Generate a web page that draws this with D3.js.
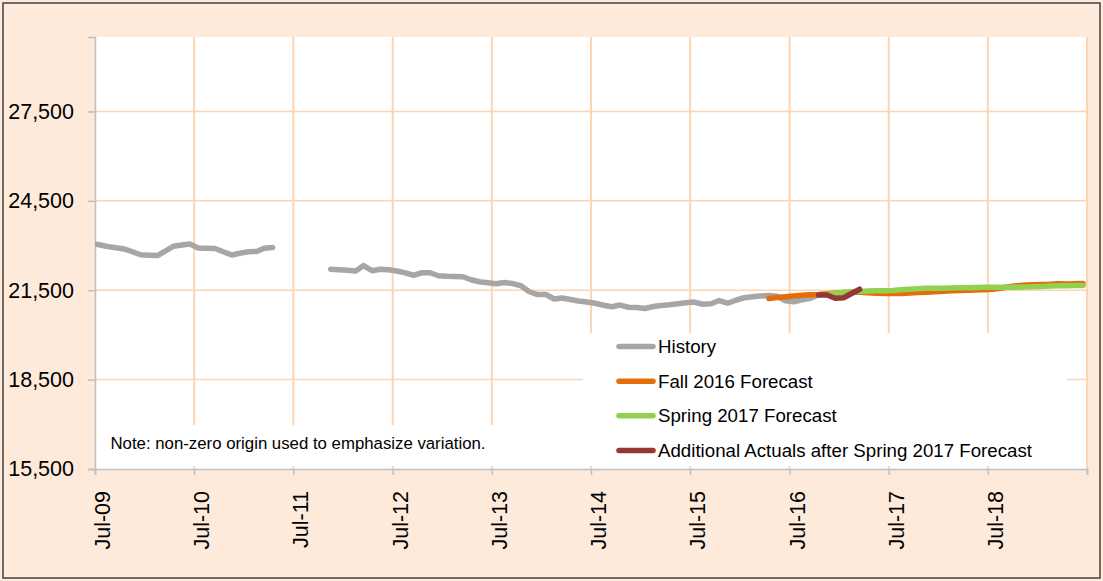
<!DOCTYPE html>
<html>
<head>
<meta charset="utf-8">
<script src="https://cdn.jsdelivr.net/npm/d3@7"></script>
<style>
html,body{margin:0;padding:0;background:#fff;}
svg{display:block;}
text{font-family:"Liberation Sans",Arial,sans-serif;fill:#000;}
</style>
</head>
<body>
<script>
// ---------- DATA ----------
const xTickLabels = ["Jul-09","Jul-10","Jul-11","Jul-12","Jul-13","Jul-14","Jul-15","Jul-16","Jul-17","Jul-18"];
const yTickValues = [15500, 18500, 21500, 24500, 27500];

// History, first segment: monthly from Jun-09
const historyA_start = "2009-06";
const historyA = [23080,23027,22967,22926,22886,22792,22691,22675,22665,22809,22977,23017,
  23054,22920,22913,22903,22792,22685,22742,22792,22799,22910,22933];

// History, second segment: monthly from Nov-11
const historyB_start = "2011-11";
const historyB = [22205,22191,22168,22148,22329,22154,22205,22188,22144,22084,22003,22087,
  22087,21987,21970,21960,21953,21852,21785,21752,21718,21762,21725,21651,
  21450,21356,21356,21205,21242,21188,21141,21107,21064,20997,20946,21003,
  20929,20919,20886,20953,20987,21013,21047,21080,21104,21030,21047,21154,
  21064,21164,21248,21282,21305,21322,21299,21148,21114,21181,21232,21340];

// Fall 2016 Forecast: monthly from Apr-16
const fall2016_start = "2016-04";
const fall2016 = [21221,21255,21282,21305,21332,21346,21359,21383,21406,21426,21433,21433,
  21416,21399,21393,21389,21393,21406,21423,21433,21450,21466,21480,21490,
  21500,21507,21517,21534,21567,21617,21651,21675,21685,21691,21701,21718,
  21708,21718,21725];

// Spring 2017 Forecast: monthly from Nov-16
const spring2017_start = "2016-11";
const spring2017 = [21366,21399,21426,21446,21460,21473,21480,21487,21493,21513,21534,21550,
  21567,21567,21570,21577,21581,21584,21591,21597,21601,21601,21601,21601,
  21607,21617,21628,21641,21651,21654,21658,21661];

// Additional Actuals after Spring 2017 Forecast: monthly from Oct-16
const actuals_start = "2016-10";
const actuals = [21340,21339,21232,21248,21399,21534];

const seriesNames = ["History","Fall 2016 Forecast","Spring 2017 Forecast","Additional Actuals after Spring 2017 Forecast"];
const seriesColors = ["#A6A6A6","#E46C0A","#92D050","#953735"];
const noteText = "Note: non-zero origin used to emphasize variation.";

// ---------- LAYOUT ----------
const W = 1103, H = 581;
const plot = {left:95, top:37, right:1087, bottom:469};
const parseMonth = d3.timeParse("%Y-%m");
const fmtTick = d3.timeFormat("%b-%y");

function toPoints(startStr, values){
  const s = parseMonth(startStr);
  return values.map((v,i)=>({date:d3.timeDay.offset(d3.timeMonth.offset(s,i),15), value:v}));
}

const x = d3.scaleTime()
  .domain([new Date(2009,6,1), new Date(2019,6,1)])
  .range([plot.left, plot.right]);
const y = d3.scaleLinear().domain([15500, 30000]).range([plot.bottom, plot.top]);

const svg = d3.select("body").append("svg").attr("width",W).attr("height",H);

// chart background + border
svg.append("rect").attr("x",0).attr("y",0).attr("width",W).attr("height",H).attr("fill","#FDEADA");
svg.append("rect").attr("x",3).attr("y",3).attr("width",W-6).attr("height",H-6)
  .attr("fill","none").attr("stroke","#404040").attr("stroke-width",1.5);

// plot area
svg.append("rect").attr("x",plot.left).attr("y",plot.top)
  .attr("width",plot.right-plot.left).attr("height",plot.bottom-plot.top).attr("fill","#fff");

const gridColor = "#FCD5B4";
const yearTicks = d3.range(1,11).map(i=>new Date(2009+i,6,1));
// vertical gridlines
svg.append("g").selectAll("line").data(yearTicks).join("line")
  .attr("x1",d=>x(d)).attr("x2",d=>x(d)).attr("y1",plot.top).attr("y2",plot.bottom)
  .attr("stroke",gridColor).attr("stroke-width",2);
// horizontal gridlines
svg.append("g").selectAll("line").data(yTickValues.slice(1)).join("line")
  .attr("x1",plot.left).attr("x2",plot.right).attr("y1",d=>y(d)).attr("y2",d=>y(d))
  .attr("stroke",gridColor).attr("stroke-width",1.5);

// axes
const yAxis = d3.axisLeft(y).tickValues(yTickValues).tickSize(7).tickPadding(14)
  .tickFormat(d3.format(","));
const gy = svg.append("g").attr("transform",`translate(${plot.left},0)`).call(yAxis);
gy.select(".domain").attr("stroke","#BFBFBF").attr("stroke-width",1.5);
gy.selectAll(".tick line").attr("stroke","#BFBFBF").attr("stroke-width",1.5);
gy.selectAll(".tick text").attr("font-size","21.5px").attr("fill","#000")
  .attr("font-family","Liberation Sans, Arial, sans-serif");

const xTicks = d3.range(0,11).map(i=>new Date(2009+i,6,1));
const xAxis = d3.axisBottom(x).tickValues(xTicks).tickSize(6).tickFormat("");
const gx = svg.append("g").attr("transform",`translate(0,${plot.bottom})`).call(xAxis);
gx.select(".domain").attr("stroke","#BFBFBF").attr("stroke-width",1.5);
gx.selectAll(".tick line").attr("stroke","#BFBFBF").attr("stroke-width",1.5);

// rotated x labels
svg.append("g").selectAll("text").data(xTicks.slice(0,10)).join("text")
  .attr("transform",d=>`translate(${x(d)+15},${plot.bottom+22}) rotate(-90)`)
  .attr("text-anchor","end")
  .attr("font-size","21.5px")
  .text((d,i)=>xTickLabels[i]);

// series
const clip = svg.append("clipPath").attr("id","clipPlot").append("rect")
  .attr("x",plot.left).attr("y",plot.top).attr("width",plot.right-plot.left).attr("height",plot.bottom-plot.top);
const line = d3.line().x(d=>x(d.date)).y(d=>y(d.value));
const gLines = svg.append("g").attr("clip-path","url(#clipPlot)");
const seriesData = [
  {pts:toPoints(historyA_start,historyA), c:0},
  {pts:toPoints(historyB_start,historyB), c:0},
  {pts:toPoints(fall2016_start,fall2016), c:1},
  {pts:toPoints(spring2017_start,spring2017), c:2},
  {pts:toPoints(actuals_start,actuals), c:3}
];
gLines.selectAll("path").data(seriesData).join("path")
  .attr("d",d=>line(d.pts)).attr("fill","none")
  .attr("stroke",d=>seriesColors[d.c]).attr("stroke-width",5.5)
  .attr("stroke-linejoin","round").attr("stroke-linecap","round");

// note box
svg.append("rect").attr("x",100).attr("y",425).attr("width",400).attr("height",41).attr("fill","#fff");
svg.append("text").attr("x",110.5).attr("y",448.5).attr("font-size","16.8px").text(noteText);

// legend
const lg = svg.append("g");
lg.append("rect").attr("x",583).attr("y",333).attr("width",484).attr("height",133).attr("fill","#fff");
const legY = d3.scaleLinear().domain([0,3]).range([346.5,450.5]);
const items = lg.selectAll("g.item").data(seriesNames).join("g").attr("class","item")
  .attr("transform",(d,i)=>`translate(0,${legY(i)})`);
items.append("line").attr("x1",619).attr("x2",653).attr("y1",0).attr("y2",0)
  .attr("stroke",(d,i)=>seriesColors[i]).attr("stroke-width",5.5).attr("stroke-linecap","round");
items.append("text").attr("x",658).attr("dy","0.35em").attr("font-size","18.7px").text(d=>d);
</script>
</body>
</html>
